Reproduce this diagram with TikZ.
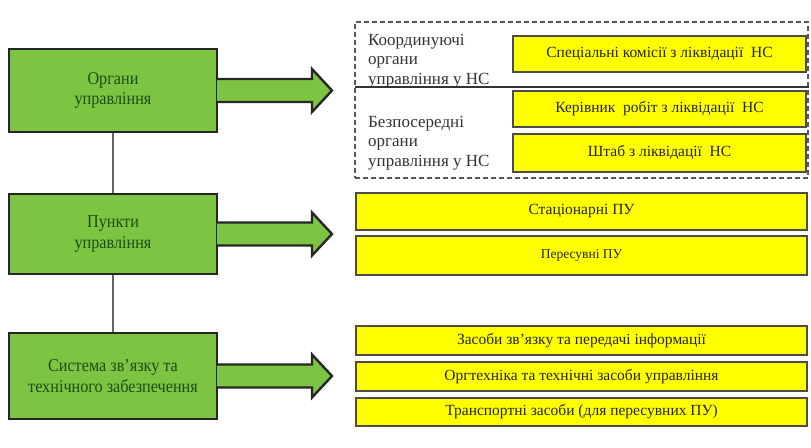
\documentclass[tikz,border=0pt]{standalone}
\usepackage{fontspec}
\setmainfont{Liberation Serif}
\newfontfamily\narrowfont[FakeStretch=0.9]{Liberation Serif}
\usetikzlibrary{positioning}
\definecolor{boxgreen}{RGB}{124,196,66}
\definecolor{textgreen}{RGB}{28,78,20}
\definecolor{boxyellow}{RGB}{255,255,0}

\begin{document}
\begin{tikzpicture}[x=1pt,y=-1pt,
        main node/.style={rectangle, draw=black!85, fill=boxgreen, line width=2.4pt,
        minimum width=208pt, minimum height=83pt, align=center, text=textgreen,
        font=\narrowfont\fontsize{18}{20.5}\selectfont},
        item node/.style={rectangle, draw=black!70, fill=boxyellow, line width=1.8pt,
        inner sep=0pt, text=black!85, font=\fontsize{15.5}{18}\selectfont},
        group text/.style={anchor=west, align=left, inner sep=0pt, text=black!80,
        font=\fontsize{17}{19.5}\selectfont},
        group box/.style={draw=black!65, line width=1.3pt, dash pattern=on 5pt off 3pt},
        big arrow/.style={draw=black!85, fill=boxgreen, line width=2.4pt, line join=miter},
        link/.style={draw=black!60, line width=1.3pt}
        ]
        \useasboundingbox (0,0) rectangle (811,447);

        % left column
        \node [main node] (org) at (113,90.5) {Органи\\управління} ;
        \node [main node, minimum height=80pt] (pu) at (113,234) {Пункти\\управління} ;
        \node [main node, minimum height=86pt] (sys) at (113,376) {Система зв’язку та\\технічного забезпечення} ;

        \path[link]
        (org) edge (pu)
        (pu) edge (sys)
        ;

        \foreach \b in {org,pu,sys}
        \path[big arrow] ([shift={(-1.2,-11.5)}]\b.east) -- ++(95,0) -- ++(0,-10)
        -- ++(20,21.5) -- ++(-20,21.5) -- ++(0,-10) -- ++(-95,0);

        % management bodies
        \node [group box, minimum width=453pt, minimum height=156pt] (grp) at (581.5,100) {} ;
        \coordinate (split) at (355,87) ;
        \draw[black!80, line width=1.2pt] (split) -- (split -| grp.east) ;
        \node [group text] (coord) at (368,61) {Координуючі\\органи\\управління у НС} ;
        \node [group text] (direct) at (368,143) {Безпосередні\\органи\\управління у НС} ;

        \node [item node, minimum width=293pt, minimum height=36pt] (k1) at (659.5,54) {Спеціальні комісії з ліквідації~~НС} ;
        \node [item node, minimum width=293pt, minimum height=36pt] (k2) at (659.5,109) {Керівник~~робіт з ліквідації~~НС} ;
        \node [item node, minimum width=293pt, minimum height=38pt] (k3) [below = 5pt of k2] {Штаб з ліквідації~~НС} ;

        % control points
        \node [item node, minimum width=451pt, minimum height=37pt] (s1) at (581.5,211.5) {Стаціонарні ПУ} ;
        \node [item node, minimum width=451pt, minimum height=39pt, font=\fontsize{13.5}{16}\selectfont] (s2) [below = 4pt of s1] {Пересувні ПУ} ;

        % communication and support
        \node [item node, minimum width=451pt, minimum height=29pt] (t1) at (581.5,340.5) {Засоби зв’язку та передачі інформації} ;
        \node [item node, minimum width=451pt, minimum height=29pt] (t2) [below = 5pt of t1] {Оргтехніка та технічні засоби управління} ;
        \node [item node, minimum width=451pt, minimum height=28pt] (t3) [below = 5pt of t2] {Транспортні засоби (для пересувних ПУ)} ;
     \end{tikzpicture}
\end{document}
